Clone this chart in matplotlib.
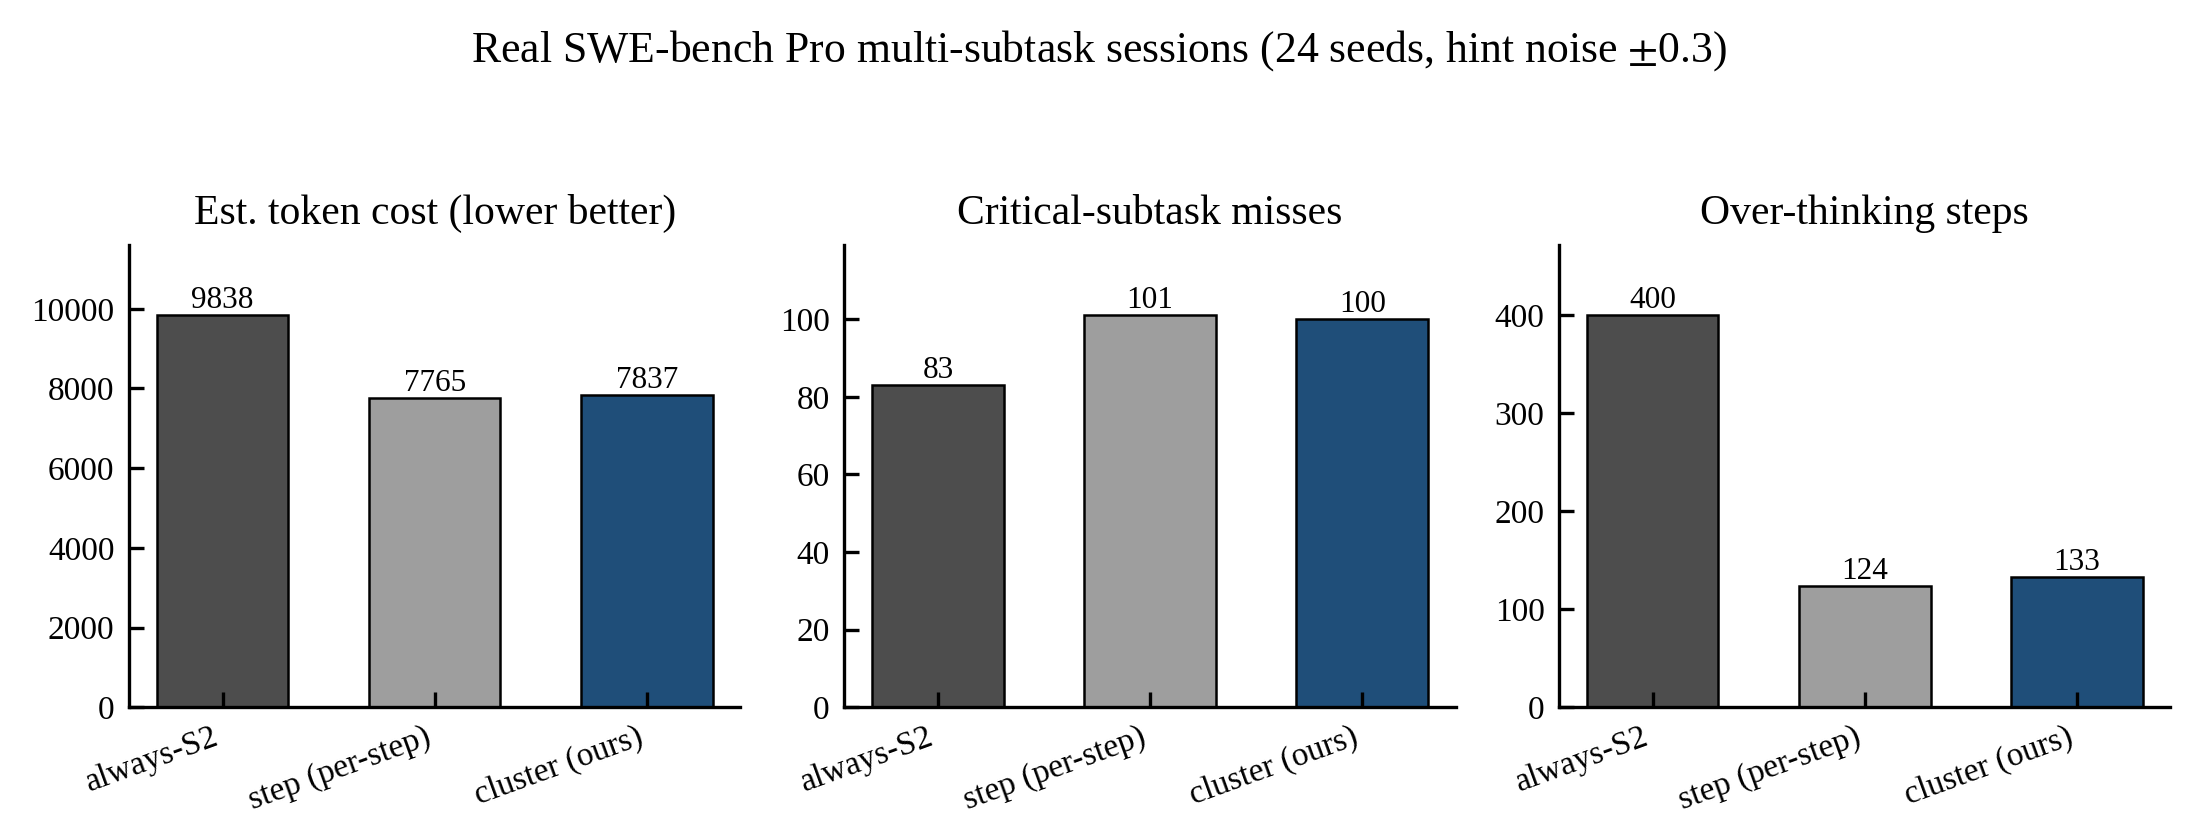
import matplotlib
matplotlib.use("Agg")
from matplotlib import pyplot as plt

plt.rcParams['font.family'] = ['Liberation Serif', 'DejaVu Serif']
plt.rcParams['mathtext.fontset'] = 'stix'

methods = ["always-S2", "step (per-step)", "cluster (ours)"]
colors = ["#4d4d4d", "#9e9e9e", "#1f4e79"]

titles = ["Est. token cost (lower better)", "Critical-subtask misses", "Over-thinking steps"]
token_cost = [9838, 7765, 7837]
critical_misses = [83, 101, 100]
overthinking = [400, 124, 133]
panels = [token_cost, critical_misses, overthinking]

fig = plt.figure(figsize=(2199 / 300, 838 / 300), dpi=300)
lefts = [0.0587, 0.384, 0.709]
for left, title, vals in zip(lefts, titles, panels):
    ax = fig.add_axes([left, 0.156, 0.278, 0.552])
    x = range(len(methods))
    bars = ax.bar(x, vals, width=0.62, color=colors, edgecolor="black", linewidth=0.6)
    ax.bar_label(bars, labels=[str(v) for v in vals], padding=0, fontsize=7.5)
    ax.set_ylim(0, max(vals) * 1.18)
    ax.set_xticks(list(x))
    ax.set_xticklabels(methods, rotation=20, ha="right", fontsize=8)
    ax.tick_params(axis="y", labelsize=8)
    ax.tick_params(direction="in", length=3.5, width=0.8)
    ax.spines["top"].set_visible(False)
    ax.spines["right"].set_visible(False)
    for s in ["left", "bottom"]:
        ax.spines[s].set_linewidth(0.8)
    ax.set_title(title, fontsize=10, pad=5)

fig.suptitle(r"Real SWE-bench Pro multi-subtask sessions (24 seeds, hint noise $\pm$0.3)",
             fontsize=10.5, y=0.967)
fig.savefig("out.png", dpi=300)
